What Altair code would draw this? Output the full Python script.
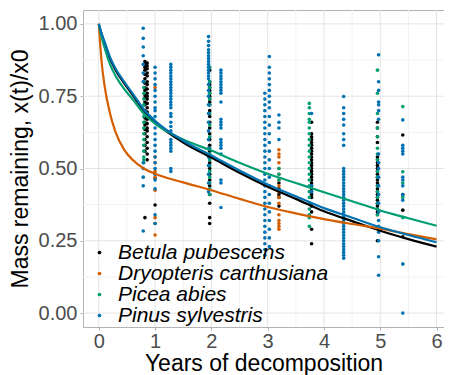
import altair as alt
import pandas as pd

species = ["Betula pubescens", "Dryopteris carthusiana", "Picea abies", "Pinus sylvestris"]
colors = ["#000000", "#D55E00", "#009E73", "#0072B2"]

x_ticks = [0, 1, 2, 3, 4, 5, 6]
y_ticks = [0.0, 0.25, 0.5, 0.75, 1.0]
x_minor = [0.5, 1.5, 2.5, 3.5, 4.5, 5.5]
y_minor = [0.125, 0.375, 0.625, 0.875]

# fitted curves
curve_t = [0, 0.05, 0.1, 0.2, 0.3, 0.45, 0.6, 0.8, 1.0, 1.5, 2, 2.5, 3, 3.5, 4, 4.5, 5, 5.5, 6]
curve_betula = [1.0, 0.965, 0.935, 0.88, 0.84, 0.795, 0.755, 0.70, 0.66, 0.59, 0.538, 0.485, 0.437, 0.395, 0.352, 0.318, 0.285, 0.256, 0.23]
curve_dryopteris = [1.0, 0.87, 0.79, 0.69, 0.625, 0.565, 0.53, 0.50, 0.482, 0.452, 0.425, 0.395, 0.367, 0.345, 0.325, 0.308, 0.292, 0.273, 0.255]
curve_picea = [1.0, 0.955, 0.92, 0.86, 0.82, 0.775, 0.74, 0.69, 0.655, 0.60, 0.562, 0.52, 0.482, 0.45, 0.418, 0.387, 0.355, 0.328, 0.302]
curve_pinus = [1.0, 0.967, 0.94, 0.885, 0.845, 0.80, 0.76, 0.705, 0.665, 0.596, 0.545, 0.493, 0.445, 0.404, 0.363, 0.33, 0.297, 0.27, 0.245]

# observations: (time, [mass remaining values])
obs_betula = [
    (0.82, [0.87, 0.86, 0.85, 0.84, 0.825, 0.81, 0.795, 0.78, 0.77, 0.755, 0.745, 0.73, 0.72, 0.70, 0.69, 0.675, 0.66, 0.65, 0.635, 0.62, 0.60, 0.58, 0.56, 0.33]),
    (0.86, [0.865, 0.855, 0.845, 0.83, 0.82, 0.80, 0.79, 0.775, 0.76, 0.75, 0.74, 0.725, 0.71, 0.695, 0.68, 0.67, 0.655, 0.64, 0.63, 0.61, 0.59, 0.57, 0.55, 0.53]),
    (1.0, [0.467, 0.374]),
    (1.97, [0.84, 0.80, 0.79, 0.78, 0.77, 0.76, 0.75, 0.74, 0.73, 0.72, 0.70, 0.68, 0.66, 0.64, 0.62, 0.60, 0.58, 0.56, 0.54, 0.52, 0.50, 0.48, 0.46, 0.44, 0.41, 0.38, 0.33, 0.31]),
    (3.2, [0.45, 0.43, 0.41, 0.40, 0.37]),
    (3.78, [0.66, 0.62, 0.61, 0.60, 0.59, 0.58, 0.57, 0.56, 0.55, 0.54, 0.53, 0.52, 0.51, 0.50, 0.49, 0.48, 0.47, 0.46, 0.45, 0.44, 0.43, 0.42, 0.41, 0.40, 0.37, 0.35, 0.29, 0.24]),
    (4.95, [0.66, 0.64, 0.61, 0.59, 0.54, 0.53, 0.52, 0.51, 0.50, 0.49, 0.48, 0.47, 0.46, 0.45, 0.44, 0.43, 0.42, 0.41, 0.40, 0.39, 0.38, 0.37, 0.36, 0.35, 0.34, 0.25]),
    (5.4, [0.616, 0.41, 0.356, 0.264]),
]
obs_dryopteris = [
    (1.0, [0.78, 0.54, 0.52, 0.49, 0.47, 0.425, 0.33, 0.31, 0.27]),
    (3.2, [0.565, 0.55, 0.54, 0.52, 0.50, 0.48, 0.46, 0.44, 0.42, 0.40, 0.38, 0.34, 0.32, 0.31, 0.30, 0.29]),
]
obs_picea = [
    (0.80, [0.80, 0.78, 0.76, 0.74, 0.72, 0.70, 0.68, 0.66, 0.64, 0.62, 0.60, 0.58, 0.56, 0.54, 0.53, 0.52]),
    (1.97, [0.85, 0.80, 0.78, 0.76, 0.74, 0.72, 0.69, 0.65, 0.61, 0.57, 0.55, 0.53, 0.51, 0.49, 0.47, 0.45, 0.43, 0.41]),
    (3.2, [0.50, 0.48, 0.46]),
    (3.74, [0.725, 0.71, 0.69, 0.67, 0.66, 0.64, 0.62, 0.60, 0.58, 0.56, 0.54, 0.52, 0.50, 0.48, 0.46, 0.44, 0.42, 0.40, 0.38, 0.36, 0.34, 0.33, 0.30]),
    (4.95, [0.84, 0.76, 0.69, 0.64, 0.61, 0.57, 0.55, 0.53, 0.49, 0.47, 0.44, 0.42, 0.40, 0.38, 0.36, 0.34]),
    (5.4, [0.714, 0.489, 0.45, 0.40, 0.33, 0.17]),
]
obs_pinus = [
    (0.79, [0.985, 0.95, 0.92, 0.89, 0.86, 0.83, 0.80, 0.52, 0.50, 0.47, 0.44, 0.284]),
    (1.0, [0.85, 0.83, 0.81, 0.79, 0.77, 0.75, 0.73, 0.71, 0.70, 0.68, 0.66, 0.64, 0.62, 0.60, 0.58, 0.56, 0.54, 0.52, 0.50, 0.48, 0.46, 0.43, 0.34, 0.31]),
    (1.28, [0.86, 0.85, 0.84, 0.83, 0.82, 0.81, 0.80, 0.79, 0.78, 0.77, 0.76, 0.75, 0.74, 0.73, 0.72, 0.71, 0.69, 0.68, 0.66, 0.645, 0.63, 0.60, 0.59, 0.58, 0.57, 0.56, 0.50, 0.49]),
    (1.95, [0.956, 0.94, 0.925, 0.91, 0.90, 0.89, 0.88, 0.87, 0.86, 0.85, 0.84, 0.83, 0.82, 0.81, 0.79, 0.77, 0.75, 0.72, 0.69, 0.66, 0.63, 0.60, 0.57, 0.54, 0.51, 0.48, 0.45, 0.42]),
    (2.17, [0.84, 0.83, 0.82, 0.81, 0.80, 0.79, 0.78, 0.77, 0.76, 0.73, 0.67, 0.66, 0.65, 0.64, 0.60, 0.59, 0.58, 0.57, 0.55, 0.46, 0.45, 0.365]),
    (2.95, [0.76, 0.74, 0.72, 0.70, 0.68, 0.66, 0.64, 0.62, 0.60, 0.58, 0.56, 0.54, 0.52, 0.50, 0.48, 0.46, 0.44, 0.42, 0.40, 0.38, 0.36, 0.34, 0.32, 0.30, 0.28, 0.26, 0.24, 0.22, 0.20]),
    (3.03, [0.887, 0.85, 0.83, 0.81, 0.79, 0.77, 0.75, 0.73, 0.71, 0.68, 0.65, 0.62, 0.59, 0.56, 0.53, 0.50, 0.47, 0.44, 0.41, 0.38, 0.35, 0.32, 0.29, 0.26, 0.23]),
    (3.2, [0.685, 0.66, 0.64, 0.60]),
    (3.78, [0.69, 0.44, 0.42]),
    (4.35, [0.749, 0.71, 0.69, 0.67, 0.65, 0.62, 0.60, 0.58, 0.50, 0.49, 0.48, 0.47, 0.46, 0.45, 0.44, 0.43, 0.42, 0.41, 0.40, 0.39, 0.38, 0.37, 0.36, 0.35, 0.34, 0.33, 0.32, 0.31, 0.30, 0.29, 0.28, 0.27, 0.26, 0.25, 0.24, 0.23, 0.22, 0.21, 0.20, 0.19]),
    (4.97, [0.893, 0.80, 0.77, 0.73, 0.72, 0.70, 0.67, 0.55, 0.52, 0.50, 0.47, 0.44, 0.41, 0.38, 0.35, 0.32, 0.30, 0.29, 0.28, 0.25, 0.195, 0.131]),
    (5.4, [0.668, 0.58, 0.57, 0.56, 0.55, 0.47, 0.46, 0.44, 0.41, 0.39, 0.17, 0.0]),
]

rows = []
for sp, obs in zip(species, [obs_betula, obs_dryopteris, obs_picea, obs_pinus]):
    for t, vals in obs:
        for v in vals:
            rows.append({"t": t, "m": v, "species": sp})
points_df = pd.DataFrame(rows)

crow = []
for sp, vals in zip(species, [curve_betula, curve_dryopteris, curve_picea, curve_pinus]):
    for t, v in zip(curve_t, vals):
        crow.append({"t": t, "m": v, "species": sp})
curve_df = pd.DataFrame(crow)

FONT = "Liberation Sans"
xs = alt.Scale(domain=[-0.28, 6.132], nice=False, zero=False)
ys = alt.Scale(domain=[-0.048, 1.048], nice=False, zero=False)
cs = alt.Scale(domain=species, range=colors)

x_axis = alt.Axis(values=x_ticks, format="d", grid=False, labelFontSize=20, labelColor="#4d4d4d",
                  labelFont=FONT, titleFont=FONT, titleFontSize=23, titleFontWeight="normal",
                  titleColor="#000000", tickColor="#b3b3b3", tickSize=3, domain=False,
                  labelPadding=1, titlePadding=1)
y_axis = alt.Axis(values=y_ticks, format=".2f", grid=False, labelFontSize=20, labelColor="#4d4d4d",
                  labelFont=FONT, titleFont=FONT, titleFontSize=23, titleFontWeight="normal",
                  titleColor="#000000", tickColor="#b3b3b3", tickSize=3, domain=False,
                  labelPadding=3, titlePadding=6)
XT = "Years of decomposition"
YT = "Mass remaining, x(t)/x0"

minor_x = alt.Chart(pd.DataFrame({"v": x_minor})).mark_rule(color="#f3f3f3", strokeWidth=1).encode(
    x=alt.X("v:Q", scale=xs, axis=x_axis, title=XT))
minor_y = alt.Chart(pd.DataFrame({"v": y_minor})).mark_rule(color="#f3f3f3", strokeWidth=1).encode(
    y=alt.Y("v:Q", scale=ys, axis=y_axis, title=YT))
major_x = alt.Chart(pd.DataFrame({"v": x_ticks})).mark_rule(color="#e4e4e4", strokeWidth=1).encode(
    x=alt.X("v:Q", scale=xs, axis=x_axis, title=XT))
major_y = alt.Chart(pd.DataFrame({"v": y_ticks})).mark_rule(color="#e4e4e4", strokeWidth=1).encode(
    y=alt.Y("v:Q", scale=ys, axis=y_axis, title=YT))

pts = alt.Chart(points_df).mark_circle(size=13, opacity=1).encode(
    x=alt.X("t:Q", scale=xs, axis=x_axis, title=XT),
    y=alt.Y("m:Q", scale=ys, axis=y_axis, title=YT),
    color=alt.Color("species:N", scale=cs, title=None,
                    legend=alt.Legend(orient="none", legendX=6, legendY=232, symbolType="circle",
                                      symbolSize=14, labelFont=FONT, labelFontStyle="italic",
                                      labelFontSize=21, labelColor="#000000", labelOffset=8,
                                      labelLimit=400, columns=1, rowPadding=-3,
                                      symbolStrokeWidth=0)),
)

lines = alt.Chart(curve_df).mark_line(strokeWidth=2.2, interpolate="monotone").encode(
    x=alt.X("t:Q", scale=xs, axis=x_axis, title=XT),
    y=alt.Y("m:Q", scale=ys, axis=y_axis, title=YT),
    color=alt.Color("species:N", scale=cs, legend=None),
    detail="species:N",
)

chart = alt.layer(minor_x, minor_y, major_x, major_y, pts, lines).properties(
    width=361, height=317,
    autosize=alt.AutoSizeParams(type="none"),
    padding={"left": 75, "top": 2, "right": 0, "bottom": 48},
).configure_view(stroke="#b3b3b3", strokeWidth=1)

chart.save("out.html", embed_options={"renderer": "svg", "actions": False})
